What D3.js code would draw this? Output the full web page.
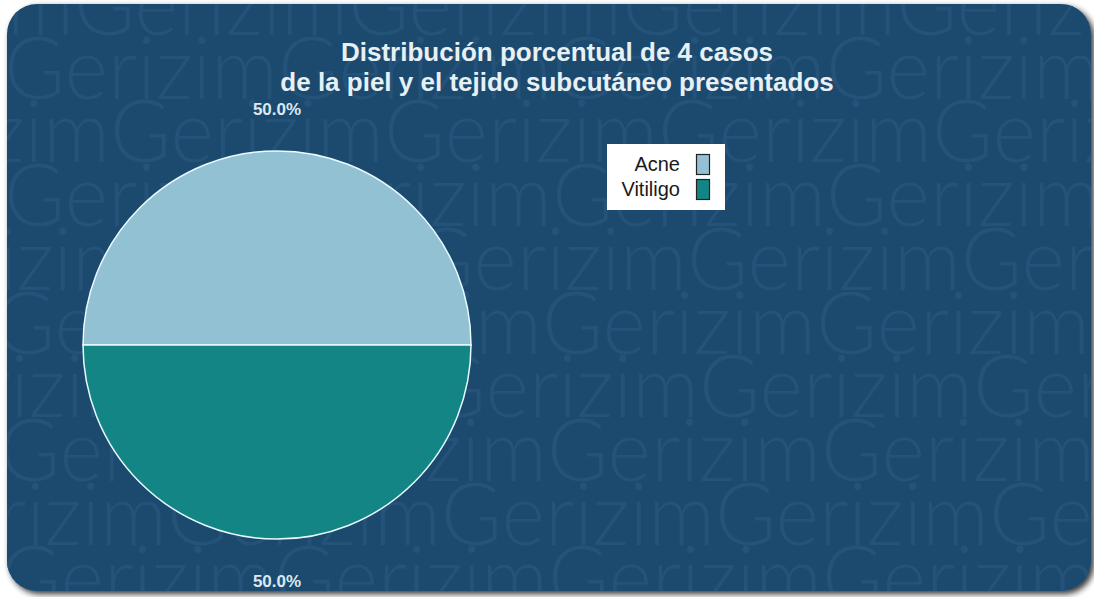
<!DOCTYPE html>
<html>
<head>
<meta charset="utf-8">
<script src="https://cdn.jsdelivr.net/npm/d3@7"></script>
<style>
  html, body { margin: 0; padding: 0; background: #ffffff; }
  svg { display: block; }
</style>
</head>
<body>
<svg id="chart" width="1094" height="597"></svg>
<script>
// Cases per skin condition
const categories = ["Acne", "Vitiligo"];
const cases = [2, 2];
const sliceColors = ["#92c1d3", "#128584"];
const titleLines = ["Distribución porcentual de 4 casos", "de la piel y el tejido subcutáneo presentados"];

// Background brand pattern: horizontal shift of each row
const patternWord = "Gerizim";
const patternOffsets = [74, 4, 110, 4, 139, -6, 151, -1, 167, 0];

const W = 1094, H = 597;
const svg = d3.select("#chart");
const defs = svg.append("defs");

// Drop shadow for the card
const shadow = defs.append("filter").attr("id", "cardShadow")
  .attr("x", "-5%").attr("y", "-5%").attr("width", "110%").attr("height", "110%");
shadow.append("feGaussianBlur").attr("in", "SourceAlpha").attr("stdDeviation", 3).attr("result", "b");
shadow.append("feOffset").attr("in", "b").attr("dx", 3).attr("dy", 3).attr("result", "o");
shadow.append("feComponentTransfer").attr("in", "o").attr("result", "s")
  .append("feFuncA").attr("type", "linear").attr("slope", 0.8);
const merge = shadow.append("feMerge");
merge.append("feMergeNode").attr("in", "s");
merge.append("feMergeNode").attr("in", "SourceGraphic");

const card = { x: 7, y: 4, w: 1084, h: 587, r: 30 };
defs.append("clipPath").attr("id", "cardClip")
  .append("rect").attr("x", card.x).attr("y", card.y).attr("width", card.w).attr("height", card.h)
  .attr("rx", card.r).attr("ry", card.r);

svg.append("rect")
  .attr("x", card.x).attr("y", card.y).attr("width", card.w).attr("height", card.h)
  .attr("rx", card.r).attr("ry", card.r)
  .attr("fill", "#1e4a6e")
  .attr("filter", "url(#cardShadow)");

// Repeated brand text behind the chart
const pattern = svg.append("g").attr("clip-path", "url(#cardClip)");
const period = 274;
patternOffsets.forEach((off, k) => {
  const y = 35 + k * 63.7;
  for (let x = off - period * 2; x < W + period; x += period) {
    pattern.append("text")
      .attr("x", x).attr("y", y)
      .attr("textLength", period).attr("lengthAdjust", "spacingAndGlyphs")
      .attr("font-family", "Lato, 'Open Sans', sans-serif")
      .attr("font-weight", 300)
      .attr("font-size", 86)
      .attr("fill", "#245279")
      .text(patternWord);
  }
});

// Title
const title = svg.append("text")
  .attr("text-anchor", "middle")
  .attr("font-family", "'Liberation Sans', Arial, sans-serif")
  .attr("font-weight", "bold")
  .attr("font-size", 26)
  .attr("fill", "#e6f0f5");
titleLines.forEach((t, i) => {
  title.append("tspan").attr("x", 557).attr("y", 61 + i * 30).text(t);
});

// Pie
const cx = 277, cy = 345, radius = 194;
const total = d3.sum(cases);
const pie = d3.pie().sort(null).startAngle(-Math.PI / 2).endAngle(Math.PI * 1.5);
const arcs = pie(cases);
const arc = d3.arc().innerRadius(0).outerRadius(radius);
const labelArc = d3.arc().innerRadius(236).outerRadius(236);
const color = d3.scaleOrdinal().domain(categories).range(sliceColors);

const g = svg.append("g").attr("transform", `translate(${cx},${cy})`);
g.selectAll("path.slice").data(arcs).join("path")
  .attr("class", "slice")
  .attr("d", arc)
  .attr("fill", (d, i) => color(categories[i]))
  .attr("stroke", "#e8fbff")
  .attr("stroke-width", 1.5);

g.selectAll("text.pct").data(arcs).join("text")
  .attr("class", "pct")
  .attr("transform", d => `translate(${labelArc.centroid(d)})`)
  .attr("text-anchor", "middle")
  .attr("dy", "0.35em")
  .attr("font-family", "'Liberation Sans', Arial, sans-serif")
  .attr("font-weight", "bold")
  .attr("font-size", 17)
  .attr("fill", "#dbe8ef")
  .text(d => d3.format(".1%")(d.data / total));

// Legend
const legend = svg.append("g").attr("transform", "translate(607,144)");
legend.append("rect").attr("width", 118).attr("height", 66).attr("fill", "#ffffff");
const items = legend.selectAll("g.item").data(categories).join("g")
  .attr("class", "item")
  .attr("transform", (d, i) => `translate(0,${10 + i * 25})`);
items.append("rect")
  .attr("x", 89.5).attr("y", 0.5).attr("width", 13).attr("height", 20)
  .attr("fill", d => color(d)).attr("stroke", "#222").attr("stroke-width", 1.2);
items.append("text")
  .attr("x", 73).attr("y", 17)
  .attr("text-anchor", "end")
  .attr("font-family", "'Liberation Sans', Arial, sans-serif")
  .attr("font-size", 20)
  .attr("fill", "#1a1a1a")
  .text(d => d);
</script>
</body>
</html>
